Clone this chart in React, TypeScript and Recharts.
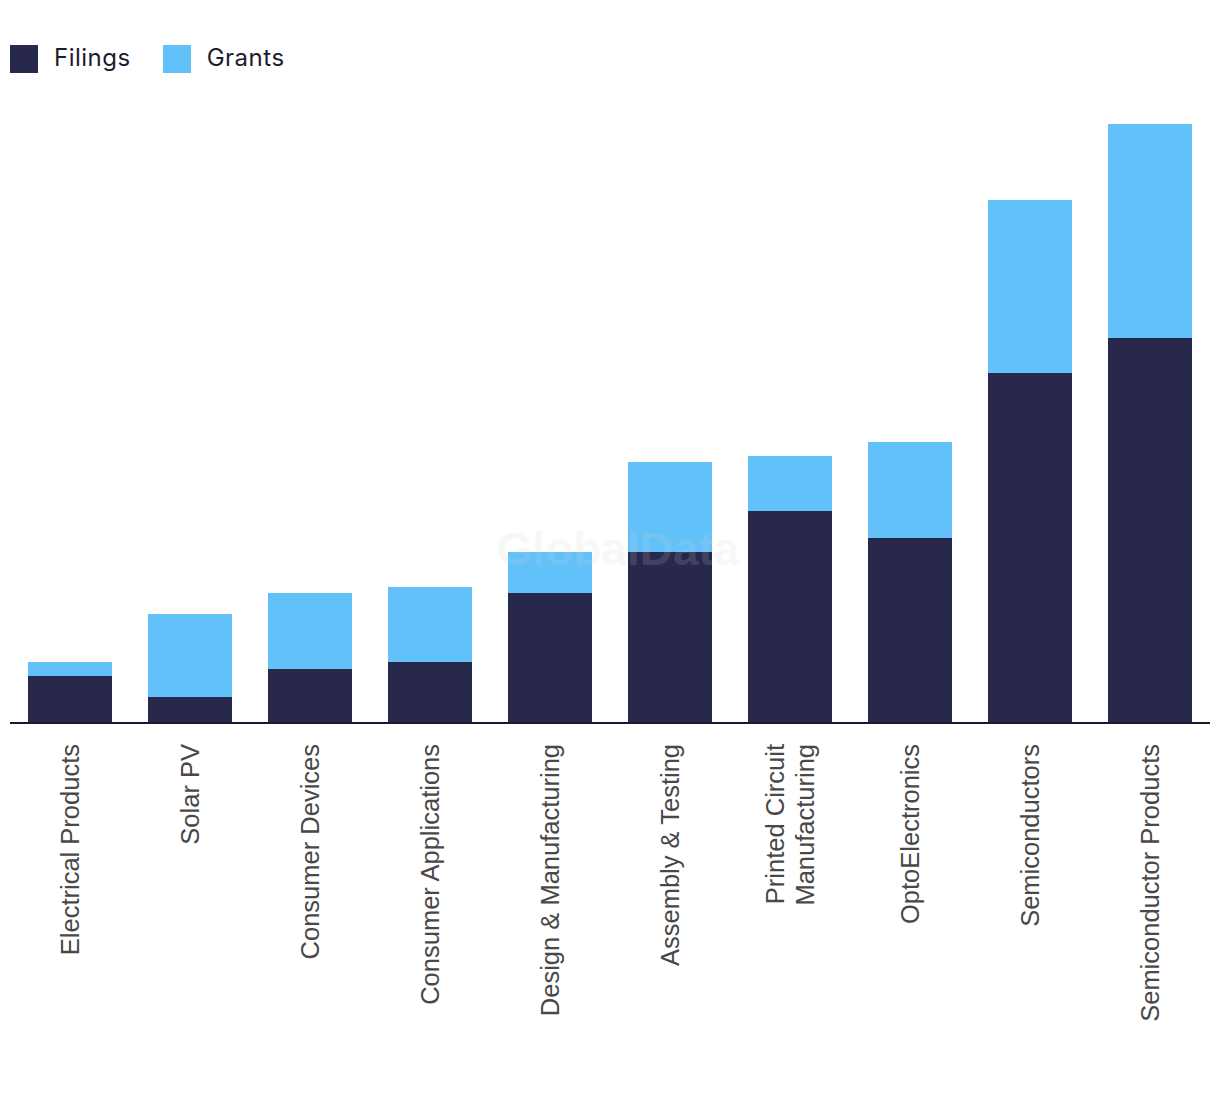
import React from 'react';
import { BarChart, Bar, XAxis, YAxis } from 'recharts';

const categories = [
  'Electrical Products',
  'Solar PV',
  'Consumer Devices',
  'Consumer Applications',
  'Design & Manufacturing',
  'Assembly & Testing',
  'Printed Circuit Manufacturing',
  'OptoElectronics',
  'Semiconductors',
  'Semiconductor Products',
];
const filings = [47, 26, 54, 61, 130, 171, 212, 185, 350, 385];
const grants = [14, 83, 76, 75, 41, 90, 55, 96, 173, 214];

const DARK = '#27284b';
const LIGHT = '#62c1f9';

const data = categories.map((name, i) => ({ name, filings: filings[i], grants: grants[i] }));

// split long labels in two lines where the original does
const wrapLabel = (s: string): string[] =>
  s === 'Printed Circuit Manufacturing' ? ['Printed Circuit', 'Manufacturing'] : [s];

const CategoryTick = (props: any) => {
  const { x, y, payload } = props;
  const lines = wrapLabel(payload.value);
  const lh = 30;
  const off = -((lines.length - 1) * lh) / 2;
  return (
    <g transform={`translate(${x},${y + 13})`}>
      {lines.map((l, i) => (
        <text
          key={i}
          transform={`translate(${off + i * lh},0) rotate(-90)`}
          textAnchor="end"
          dominantBaseline="central"
          fontSize={25.5}
          fill="#484848"
          fontFamily="'Liberation Sans', Arial, sans-serif"
        >
          {l}
        </text>
      ))}
    </g>
  );
};

const LegendItem = ({ color, label }: { color: string; label: string }) => (
  <div style={{ display: 'flex', alignItems: 'center', marginRight: 32 }}>
    <div style={{ width: 28, height: 28, background: color, marginRight: 16 }} />
    <span style={{ fontSize: 24, color: '#1c1c30', fontFamily: 'Inter, sans-serif', letterSpacing: 0.5, lineHeight: '28px', marginTop: -3 }}>
      {label}
    </span>
  </div>
);

export default function App() {
  return (
    <div style={{ position: 'relative', width: 1204, height: 1078, background: '#fff' }}>
      <div style={{ position: 'absolute', left: 2, top: 37, display: 'flex' }}>
        <LegendItem color={DARK} label="Filings" />
        <LegendItem color={LIGHT} label="Grants" />
      </div>
      <BarChart
        width={1204}
        height={1078}
        data={data}
        margin={{ top: 115, right: 2, bottom: 0, left: 2 }}
        barCategoryGap="15%"
      >
        <YAxis hide domain={[0, 600]} />
        <XAxis
          dataKey="name"
          interval={0}
          height={363}
          tickLine={false}
          axisLine={{ stroke: '#1a1a2e', strokeWidth: 2 }}
          tick={<CategoryTick />}
        />
        <Bar dataKey="filings" stackId="a" fill={DARK} isAnimationActive={false} />
        <Bar dataKey="grants" stackId="a" fill={LIGHT} isAnimationActive={false} />
      </BarChart>
      <div
        style={{
          position: 'absolute',
          left: 470,
          top: 514,
          width: 280,
          textAlign: 'center',
          fontSize: 46,
          fontWeight: 700,
          fontFamily: "'Liberation Sans', Arial, sans-serif",
          color: 'rgba(210,210,215,0.18)',
          pointerEvents: 'none',
        }}
      >
        GlobalData
      </div>
    </div>
  );
}
